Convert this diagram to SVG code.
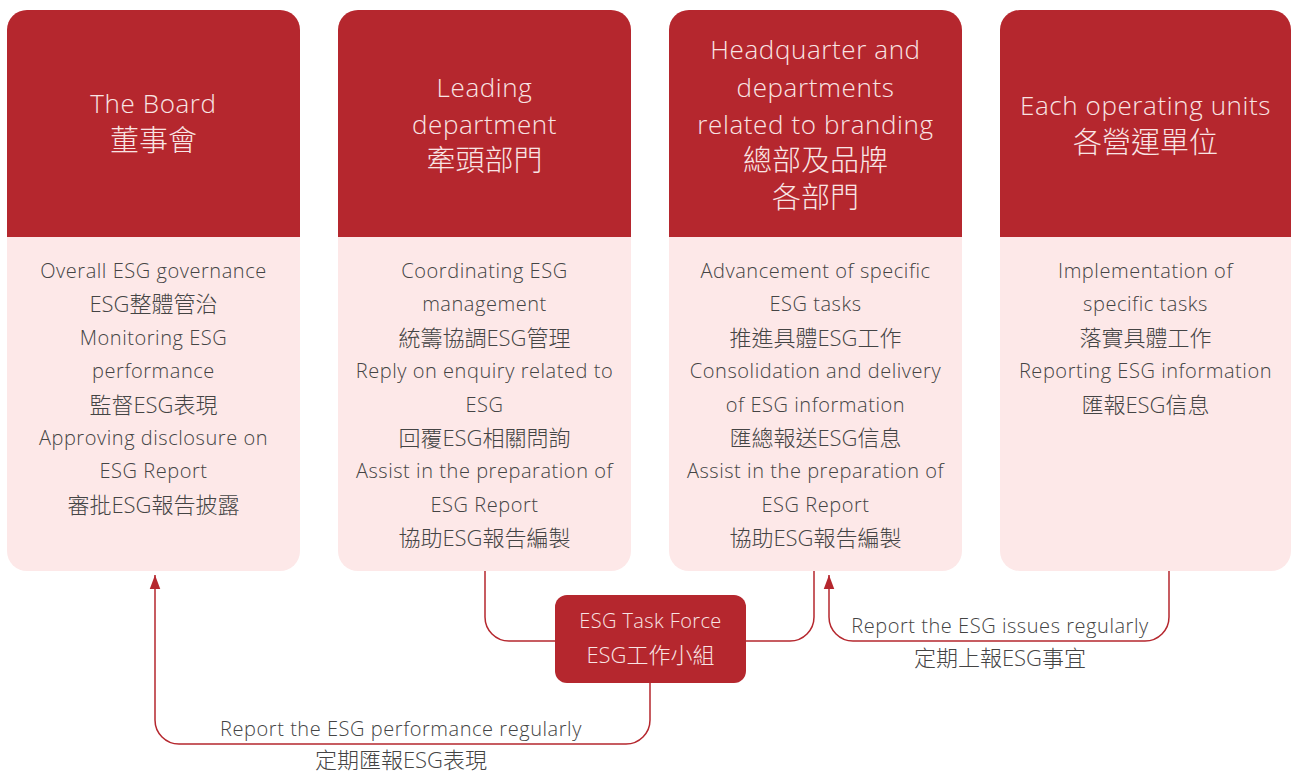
<svg xmlns="http://www.w3.org/2000/svg" width="1291" height="773" viewBox="0 0 1291 773">
<defs>
<style>
.body{fill:#fde8e8}
.head{fill:#b5272e}
.ht{font-family:"Open Sans","Noto Sans CJK TC",sans-serif;font-weight:300;font-size:26px;letter-spacing:0.6px;fill:#f9e4e4;text-anchor:middle}
.bt{font-family:"Open Sans","Noto Sans CJK TC",sans-serif;font-weight:300;font-size:20px;letter-spacing:0.55px;fill:#444;text-anchor:middle}
.tt{font-family:"Open Sans","Noto Sans CJK TC",sans-serif;font-weight:300;font-size:20px;letter-spacing:0.4px;fill:#f9e4e4;text-anchor:middle}
.c{font-size:22px;letter-spacing:0}
.hc{font-size:29px;letter-spacing:0}
.ln{fill:none;stroke:#b5272e;stroke-width:1.5}
</style>
<marker id="arr" markerUnits="userSpaceOnUse" markerWidth="14" markerHeight="16" refX="16" refY="6" orient="auto" viewBox="0 0 16 12">
<path d="M0,0 L16,6 L0,12 z" fill="#b5272e"/>
</marker>
</defs>

<g id="connectors">
<path class="ln" d="M485 571 V617 A24 24 0 0 0 509 641 H555"/>
<path class="ln" d="M746 641 H790 A24 24 0 0 0 814 617 V571"/>
<path class="ln" d="M1169 571 V617 A24 24 0 0 1 1145 641 H853 A24 24 0 0 1 829 617 V575" marker-end="url(#arr)"/>
<path class="ln" d="M650 683 V720 A24 24 0 0 1 626 744 H179 A24 24 0 0 1 155 720 V575" marker-end="url(#arr)"/>
<text class="bt" x="1000" y="633">Report the ESG issues regularly</text>
<text class="bt c" x="1000" y="666">定期上報ESG事宜</text>
<text class="bt" x="401" y="736">Report the ESG performance regularly</text>
<text class="bt c" x="401" y="768">定期匯報ESG表現</text>
</g>

<g id="board">
<rect class="body" x="7" y="10" width="293" height="561" rx="20"/>
<path class="head" d="M7 237 V30 A20 20 0 0 1 27 10 H280 A20 20 0 0 1 300 30 V237 Z"/>
<text class="ht" x="153.5" y="113">The Board</text>
<text class="ht hc" x="153.5" y="151">董事會</text>
<text class="bt" x="153.5" y="278">Overall ESG governance</text>
<text class="bt c" x="153.5" y="312.4">ESG整體管治</text>
<text class="bt" x="153.5" y="344.8">Monitoring ESG</text>
<text class="bt" x="153.5" y="378.2">performance</text>
<text class="bt c" x="153.5" y="412.6">監督ESG表現</text>
<text class="bt" x="153.5" y="445">Approving disclosure on</text>
<text class="bt" x="153.5" y="478.4">ESG Report</text>
<text class="bt c" x="153.5" y="512.8">審批ESG報告披露</text>
</g>

<g id="leading">
<rect class="body" x="338" y="10" width="293" height="561" rx="20"/>
<path class="head" d="M338 237 V30 A20 20 0 0 1 358 10 H611 A20 20 0 0 1 631 30 V237 Z"/>
<text class="ht" x="484.5" y="97">Leading</text>
<text class="ht" x="484.5" y="134">department</text>
<text class="ht hc" x="484.5" y="171">牽頭部門</text>
<text class="bt" x="484.5" y="278">Coordinating ESG</text>
<text class="bt" x="484.5" y="311.4">management</text>
<text class="bt c" x="484.5" y="345.8">統籌協調ESG管理</text>
<text class="bt" x="484.5" y="378.2">Reply on enquiry related to</text>
<text class="bt" x="484.5" y="411.6">ESG</text>
<text class="bt c" x="484.5" y="446">回覆ESG相關問詢</text>
<text class="bt" x="484.5" y="478.4">Assist in the preparation of</text>
<text class="bt" x="484.5" y="511.8">ESG Report</text>
<text class="bt c" x="484.5" y="546.2">協助ESG報告編製</text>
</g>

<g id="headquarter">
<rect class="body" x="669" y="10" width="293" height="561" rx="20"/>
<path class="head" d="M669 237 V30 A20 20 0 0 1 689 10 H942 A20 20 0 0 1 962 30 V237 Z"/>
<text class="ht" x="815.5" y="59">Headquarter and</text>
<text class="ht" x="815.5" y="97">departments</text>
<text class="ht" x="815.5" y="134">related to branding</text>
<text class="ht hc" x="815.5" y="171">總部及品牌</text>
<text class="ht hc" x="815.5" y="208">各部門</text>
<text class="bt" x="815.5" y="278">Advancement of specific</text>
<text class="bt" x="815.5" y="311.4">ESG tasks</text>
<text class="bt c" x="815.5" y="345.8">推進具體ESG工作</text>
<text class="bt" x="815.5" y="378.2">Consolidation and delivery</text>
<text class="bt" x="815.5" y="411.6">of ESG information</text>
<text class="bt c" x="815.5" y="446">匯總報送ESG信息</text>
<text class="bt" x="815.5" y="478.4">Assist in the preparation of</text>
<text class="bt" x="815.5" y="511.8">ESG Report</text>
<text class="bt c" x="815.5" y="546.2">協助ESG報告編製</text>
</g>

<g id="operating-units">
<rect class="body" x="1000" y="10" width="291" height="561" rx="20"/>
<path class="head" d="M1000 237 V30 A20 20 0 0 1 1020 10 H1271 A20 20 0 0 1 1291 30 V237 Z"/>
<text class="ht" x="1145.5" y="115">Each operating units</text>
<text class="ht hc" x="1145.5" y="153">各營運單位</text>
<text class="bt" x="1145.5" y="278">Implementation of</text>
<text class="bt" x="1145.5" y="311.4">specific tasks</text>
<text class="bt c" x="1145.5" y="345.8">落實具體工作</text>
<text class="bt" x="1145.5" y="378.2">Reporting ESG information</text>
<text class="bt c" x="1145.5" y="412.6">匯報ESG信息</text>
</g>

<g id="task-force">
<rect class="head" x="555" y="595" width="191" height="88" rx="12"/>
<text class="tt" x="650.5" y="628">ESG Task Force</text>
<text class="tt c" x="650.5" y="663">ESG工作小組</text>
</g>
</svg>
